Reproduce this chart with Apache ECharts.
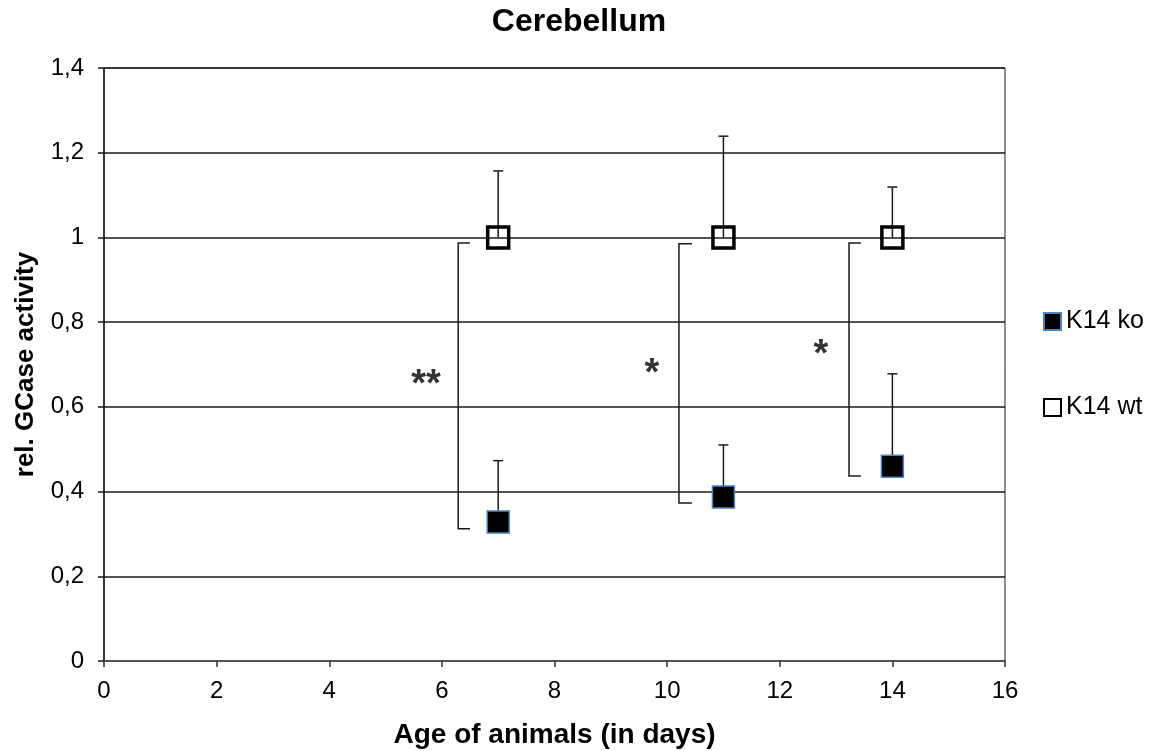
<!DOCTYPE html>
<html>
<head>
<meta charset="utf-8">
<script src="https://cdn.jsdelivr.net/npm/echarts@6/dist/echarts.min.js"></script>
<style>
  html, body { margin: 0; padding: 0; background: #fff; }
  #chart { width: 1158px; height: 751px; }
</style>
</head>
<body>
<div id="chart"></div>
<script>
// Age of animals (days) at which GCase activity was measured
const ages = [7, 11, 14];

// Relative GCase activity and upper standard deviation
const koValues = [0.328, 0.387, 0.46];
const koErrors = [0.145, 0.123, 0.218];
const wtValues = [1.0, 1.0, 1.0];
const wtErrors = [0.157, 0.239, 0.119];

// Significance brackets: x of the vertical bar, top and bottom y, x where the end stubs stop
const bracketX = [6.29, 10.21, 13.23];
const bracketTop = [0.987, 0.985, 0.987];
const bracketBottom = [0.312, 0.373, 0.437];
const bracketStubX = [6.5, 10.44, 13.44];

// Significance stars and where they sit
const sigLabels = ['**', '*', '*'];
const sigX = [5.72, 9.73, 12.73];
const sigY = [0.665, 0.69, 0.735];

const seriesNames = ['K14 ko', 'K14 wt'];

const font = '"Liberation Sans", Arial, sans-serif';

function errorBarRender(params, api) {
  const x = api.value(0);
  const v = api.value(1);
  const e = api.value(2);
  const p0 = api.coord([x, v]);
  const p1 = api.coord([x, v + e]);
  const half = 5;
  return {
    type: 'group',
    children: [
      { type: 'line', shape: { x1: p0[0], y1: p0[1], x2: p1[0], y2: p1[1] },
        style: { stroke: '#1a1a1a', lineWidth: 1.5 } },
      { type: 'line', shape: { x1: p1[0] - half, y1: p1[1], x2: p1[0] + half, y2: p1[1] },
        style: { stroke: '#1a1a1a', lineWidth: 1.5 } }
    ]
  };
}

function bracketRender(params, api) {
  const x = api.value(0);
  const top = api.coord([x, api.value(1)]);
  const bottom = api.coord([x, api.value(2)]);
  const stubTop = api.coord([api.value(3), api.value(1)]);
  const stubBottom = api.coord([api.value(3), api.value(2)]);
  return {
    type: 'polyline',
    shape: { points: [[stubTop[0], top[1]], top, bottom, [stubBottom[0], bottom[1]]] },
    style: { stroke: '#1a1a1a', lineWidth: 1.5, fill: null }
  };
}

const chart = echarts.init(document.getElementById('chart'), null, { renderer: 'canvas' });

chart.setOption({
  animation: false,
  backgroundColor: '#fff',
  title: {
    text: 'Cerebellum',
    left: 'center',
    top: 1,
    textStyle: { fontFamily: font, fontSize: 32, fontWeight: 'bold', color: '#000' }
  },
  legend: {
    orient: 'vertical',
    left: 1038,
    top: 304,
    itemGap: 61,
    itemWidth: 17,
    itemHeight: 17,
    data: seriesNames,
    textStyle: { fontFamily: font, fontSize: 25, color: '#000' }
  },
  grid: {
    left: 104, right: 153, top: 68, bottom: 90,
    containLabel: false,
    outerBoundsMode: 'none',
    show: true, borderColor: '#1a1a1a', borderWidth: 1
  },
  xAxis: {
    type: 'value',
    min: 0, max: 16, interval: 2,
    name: 'Age of animals (in days)',
    nameLocation: 'middle',
    nameGap: 60,
    nameTextStyle: { fontFamily: font, fontSize: 28, fontWeight: 'bold', color: '#000' },
    axisLine: { lineStyle: { color: '#555', width: 2 } },
    axisTick: { show: true, length: 6, lineStyle: { color: '#333', width: 1.5 } },
    axisLabel: { fontFamily: font, fontSize: 24, color: '#000', margin: 18 },
    splitLine: { show: false }
  },
  yAxis: {
    type: 'value',
    min: 0, max: 1.4, interval: 0.2,
    name: 'rel. GCase activity',
    nameLocation: 'middle',
    nameGap: 65,
    nameTextStyle: { fontFamily: font, fontSize: 26, fontWeight: 'bold', color: '#000' },
    axisLine: { show: true, lineStyle: { color: '#1a1a1a', width: 1.5 } },
    axisTick: { show: true, length: 6, lineStyle: { color: '#1a1a1a', width: 1.5 } },
    axisLabel: {
      fontFamily: font, fontSize: 24, color: '#000', margin: 20,
      formatter: v => String(Math.round(v * 10) / 10).replace('.', ',')
    },
    splitLine: { show: true, lineStyle: { color: '#1a1a1a', width: 1.5 } }
  },
  series: [
    {
      name: 'K14 ko error',
      type: 'custom',
      renderItem: errorBarRender,
      data: ages.map((a, i) => [a, koValues[i], koErrors[i]]),
      encode: { x: 0, y: 1 },
      z: 3, silent: true
    },
    {
      name: 'K14 wt error',
      type: 'custom',
      renderItem: errorBarRender,
      data: ages.map((a, i) => [a, wtValues[i], wtErrors[i]]),
      encode: { x: 0, y: 1 },
      z: 3, silent: true
    },
    {
      name: 'brackets',
      type: 'custom',
      renderItem: bracketRender,
      data: bracketX.map((x, i) => [x, bracketTop[i], bracketBottom[i], bracketStubX[i]]),
      encode: { x: 0, y: [1, 2] },
      z: 3, silent: true
    },
    {
      name: 'stars',
      type: 'scatter',
      symbolSize: 0,
      data: sigX.map((x, i) => ({ value: [x, sigY[i]], label: { formatter: sigLabels[i] } })),
      label: {
        show: true, position: 'inside', offset: [0, 6],
        fontFamily: font, fontSize: 38, fontWeight: 'bold', color: '#000'
      },
      silent: true, z: 4
    },
    {
      name: seriesNames[0],
      type: 'scatter',
      symbol: 'rect',
      symbolSize: 22,
      data: ages.map((a, i) => [a, koValues[i]]),
      itemStyle: { color: '#000', opacity: 1, borderColor: '#4f81bd', borderWidth: 1.5 },
      z: 5
    },
    {
      name: seriesNames[1],
      type: 'scatter',
      symbol: 'rect',
      symbolSize: 21,
      data: ages.map((a, i) => [a, wtValues[i]]),
      itemStyle: { color: 'rgba(255,255,255,0)', opacity: 1, borderColor: '#000', borderWidth: 3.5 },
      z: 5
    }
  ]
});
</script>
</body>
</html>
